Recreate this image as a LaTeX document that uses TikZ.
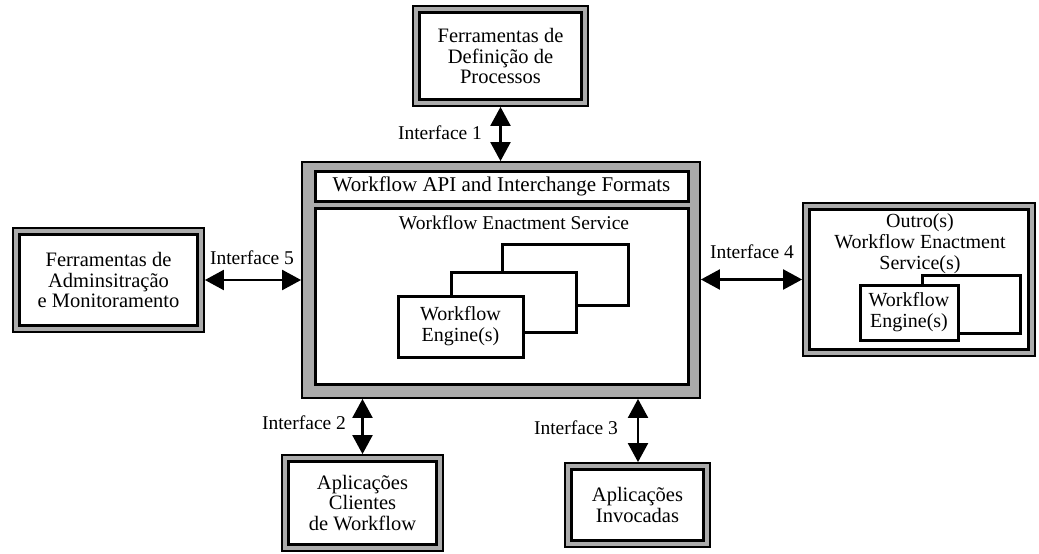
\documentclass[tikz,border=0pt]{standalone}
\usepackage{fontspec}
\setmainfont{Liberation Serif}
\usetikzlibrary{arrows.meta}

\tikzset{
  outerframe/.style={draw=black, line width=1.8pt, fill=black!33, inner sep=0pt},
  innerframe/.style={draw=black, line width=3pt, fill=white, inner sep=0pt,
    align=center, font=\fontsize{20.5}{20.5}\selectfont},
  engine/.style={draw=black, line width=3pt, fill=white, inner sep=0pt,
    align=center, font=\fontsize{20}{21}\selectfont},
  iflabel/.style={font=\fontsize{19.5}{20}\selectfont, inner sep=0pt},
  bigtip/.tip={Triangle[length=19pt 0, width=20pt 0]},
  link/.style={line width=2.2pt, bigtip-bigtip}
}

% framed box: #1 name, #2 centre, #3 width, #4 height, #5 label
\newcommand{\framedbox}[5]{%
  \node[outerframe, minimum width=#3pt, minimum height=#4pt] (#1) at (#2) {};
  \node[innerframe, minimum width=#3pt-13pt, minimum height=#4pt-13pt] (#1in) at (#2) {#5};
}

\begin{document}
\begin{tikzpicture}[x=1pt, y=-1pt]
\useasboundingbox (0,0) rectangle (1039,554);
\fill[white] (0,0) rectangle (1039,554);

% process definition tools
\framedbox{T}{500.5,56}{175}{100}{Ferramentas de\\Definição de\\Processos}

% administration and monitoring tools
\framedbox{L}{108.5,280}{191}{104}{Ferramentas de\\Adminsitração\\e Monitoramento}

% client applications
\framedbox{BL}{362.5,503}{161}{96}{Aplicações\\Clientes\\de Workflow}

% invoked applications
\framedbox{BR}{637.5,505}{145}{84}{Aplicações\\Invocadas}

% other enactment services
\framedbox{R}{919,279.5}{232}{153}{}
\node[font=\fontsize{20}{21}\selectfont, align=center, inner sep=0pt] (Rtxt) at (920,244)
  {Outro(s)\\Workflow Enactment\\Service(s)};
\node[engine, minimum width=98pt, minimum height=58pt] (Reng2) at (971,304) {};
\node[engine, minimum width=98pt, minimum height=55pt] (Reng1) at (909,312.5) {Workflow\\Engine(s)};

% central enactment service
\node[outerframe, minimum width=398pt, minimum height=236pt] (C) at (501,280) {};
\node[innerframe, minimum width=373pt, minimum height=30pt, font=\fontsize{21}{21}\selectfont]
  (API) at (501.5,186) {Workflow API and Interchange Formats};
\node[innerframe, minimum width=373pt, minimum height=176pt] (WES) at (501.5,296) {};
\node[iflabel] (WEStxt) at (514,223) {Workflow Enactment Service};
\node[engine, minimum width=126pt, minimum height=61pt] (E3) at (565,274.5) {};
\node[engine, minimum width=125pt, minimum height=60pt] (E2) at (513.5,302) {};
\node[engine, minimum width=125pt, minimum height=61pt] (E1) at (460.5,326.5) {Workflow\\Engine(s)};

% interfaces
\draw[link] (T.south) -- (T.south |- C.north);
\draw[link] (L.east) -- (C.west |- L.east);
\draw[link] (C.east |- R.west) -- (R.west);
\draw[link] (C.south -| BL.north) -- (BL.north);
\draw[link] (C.south -| 638,0) -- (BR.north -| 638,0);

\node[iflabel] (I1) at (440,133) {Interface 1};
\node[iflabel] (I5) at (252,258) {Interface 5};
\node[iflabel] (I4) at (752,252) {Interface 4};
\node[iflabel] (I2) at (304,423) {Interface 2};
\node[iflabel] (I3) at (576,428) {Interface 3};
\end{tikzpicture}
\end{document}
